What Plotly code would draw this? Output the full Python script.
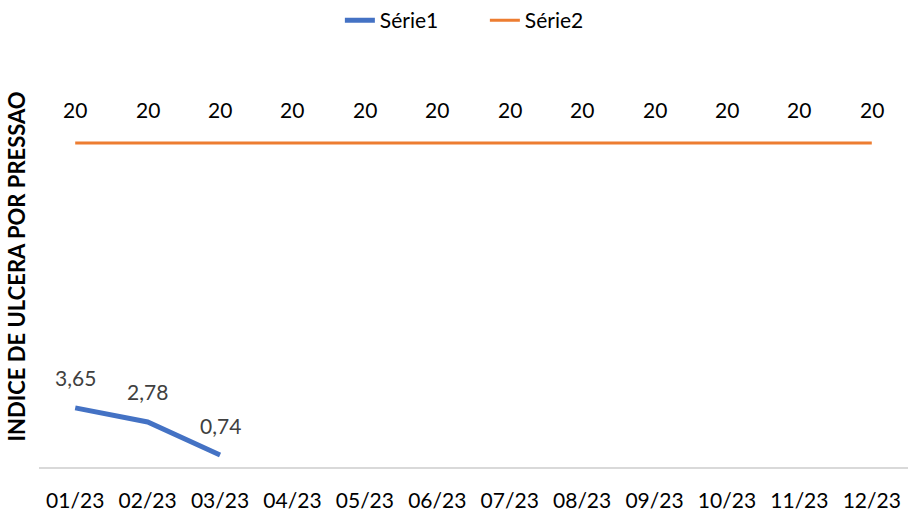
import plotly.graph_objects as go

months = ["01/23", "02/23", "03/23", "04/23", "05/23", "06/23",
          "07/23", "08/23", "09/23", "10/23", "11/23", "12/23"]
serie1 = [3.65, 2.78, 0.74]
serie2 = [20] * 12
y_title = "INDICE DE ULCERA POR PRESSAO"

FONT = "Lato, Carlito, Calibri, 'Open Sans', sans-serif"

def fmt(v):
    s = str(int(v)) if v == int(v) else f"{v:.2f}"
    return s.replace(".", ",")

fig = go.Figure()
fig.add_trace(go.Scatter(x=months[:len(serie1)], y=serie1, mode="lines", name="Série1",
                         line=dict(color="#4472C4", width=5)))
fig.add_trace(go.Scatter(x=months, y=serie2, mode="lines", name="Série2",
                         line=dict(color="#ED7D31", width=3)))

annos = []
for m, v in zip(months, serie1):
    annos.append(dict(x=m, y=v, text=fmt(v), showarrow=False, yshift=30,
                      font=dict(size=21, color="#404040", family=FONT)))
for m, v in zip(months, serie2):
    annos.append(dict(x=m, y=v, text=fmt(v), showarrow=False, yshift=34,
                      font=dict(size=21, color="#000000", family=FONT)))
annos.append(dict(xref="paper", yref="paper", x=-22/869, xanchor="center",
                  y=0.495, yanchor="middle", text=y_title,
                  textangle=-90, showarrow=False,
                  font=dict(size=22, color="#000000", family=FONT, weight="bold")))

fig.update_layout(
    width=908, height=512,
    margin=dict(l=39, r=0, t=62, b=42),
    plot_bgcolor="white", paper_bgcolor="white",
    font=dict(family=FONT, size=21, color="#000000"),
    showlegend=True,
    legend=dict(orientation="h", xref="container", x=0.534, xanchor="center",
                yref="container", y=1.0, yanchor="top",
                entrywidth=100, entrywidthmode="pixels",
                font=dict(size=21, color="#000000")),
    annotations=annos,
    xaxis=dict(type="category", range=[-0.5, 11.5], showgrid=False, showline=True,
               linecolor="#D9D9D9", linewidth=1.5, ticks="", ticklabelstandoff=14,
               tickfont=dict(size=21, color="#000000")),
    yaxis=dict(range=[0, 25], showgrid=False, showticklabels=False, zeroline=False,
               showline=False, ticks=""),
)
fig.write_html("out.html", config={"displayModeBar": False},
               post_script="document.body.style.margin='0';")
